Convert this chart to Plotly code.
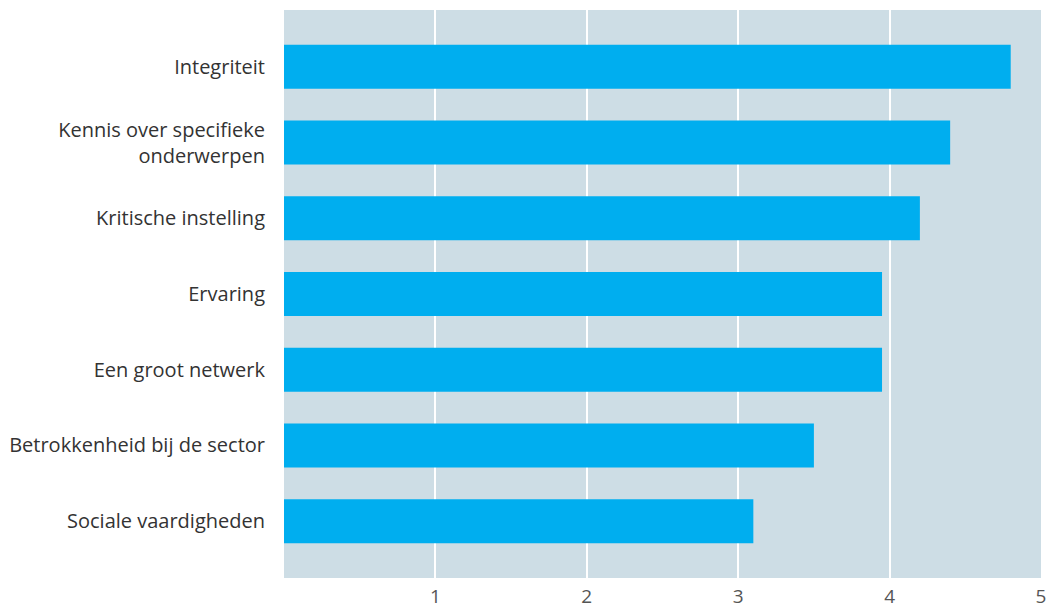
import plotly.graph_objects as go

categories = [
    "Integriteit",
    "Kennis over specifieke<br>onderwerpen",
    "Kritische instelling",
    "Ervaring",
    "Een groot netwerk",
    "Betrokkenheid bij de sector",
    "Sociale vaardigheden",
]
scores = [4.80, 4.40, 4.20, 3.95, 3.95, 3.50, 3.10]
x_ticks = [1, 2, 3, 4, 5]

fig = go.Figure(
    go.Bar(
        x=scores,
        y=categories,
        orientation="h",
        marker=dict(color="#00aeef", line=dict(width=0)),
        width=0.58,
        hoverinfo="x+y",
    )
)

fig.update_layout(
    width=1047,
    height=608,
    margin=dict(l=284, r=6, t=10, b=30, autoexpand=False),
    paper_bgcolor="white",
    plot_bgcolor="#cddde5",
    font=dict(family="'Open Sans', sans-serif", color="#333333"),
    showlegend=False,
)

fig.update_xaxes(
    range=[0, 5],
    tickvals=x_ticks,
    ticktext=[str(v) for v in x_ticks],
    showgrid=True,
    gridcolor="white",
    gridwidth=2,
    zeroline=False,
    showline=False,
    ticks="",
    automargin=False,
    ticklabelstandoff=5,
    tickfont=dict(size=19, color="#555555"),
)

fig.update_yaxes(
    range=[6.75, -0.75],
    showgrid=False,
    zeroline=False,
    showline=False,
    ticks="",
    automargin=False,
    ticklabelstandoff=18,
    tickfont=dict(size=20, color="#333333"),
)

fig.write_html("out.html")
